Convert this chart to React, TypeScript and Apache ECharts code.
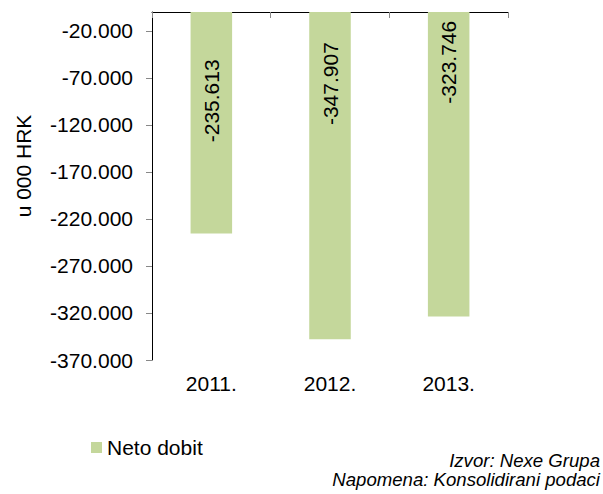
import React, { useEffect, useRef } from "react";
import * as echarts from "echarts";

const categories = ["2011.", "2012.", "2013."];
const netoDobit = [-235613, -347907, -323746];
const yTickValues = [-370000, -320000, -270000, -220000, -170000, -120000, -70000, -20000];
const labelShifts = [22, 92, 102];
const seriesName = "Neto dobit";
const yAxisTitle = "u 000 HRK";
const sourceLines = ["Izvor: Nexe Grupa", "Napomena: Konsolidirani podaci"];

const FONT = "'Liberation Sans', Arial, sans-serif";

function fmt(v: number): string {
  const s = Math.abs(Math.round(v)).toString().replace(/\B(?=(\d{3})+(?!\d))/g, ".");
  return (v < 0 ? "-" : "") + s;
}

export default function App() {
  const ref = useRef<HTMLDivElement>(null);
  useEffect(() => {
    if (!ref.current) return;
    const chart = echarts.init(ref.current, null, { renderer: "svg" });
    chart.setOption({
      animation: false,
      backgroundColor: "#ffffff",
      textStyle: { fontFamily: FONT },
      grid: { left: 152, top: 12, width: 356, height: 348, containLabel: false },
      legend: {
        data: [seriesName],
        left: 91,
        top: 437,
        padding: 0,
        icon: "rect",
        itemWidth: 11,
        itemHeight: 11,
        itemGap: 10,
        textStyle: { fontFamily: FONT, fontSize: 21, color: "#000000" },
      },
      xAxis: [
        {
          type: "category",
          data: categories,
          position: "top",
          axisLine: { show: true, onZero: false, lineStyle: { color: "#000000", width: 1 } },
          axisTick: { show: true, inside: true, length: 6, lineStyle: { color: "#888888" } },
          axisLabel: { show: false },
          splitLine: { show: false },
        },
        {
          type: "category",
          data: categories,
          position: "bottom",
          axisLine: { show: false, onZero: false },
          axisTick: { show: false },
          axisLabel: { show: true, margin: 13, fontFamily: FONT, fontSize: 21, color: "#000000" },
          splitLine: { show: false },
        },
      ],
      yAxis: {
        type: "value",
        min: -370000,
        max: 0,
        axisLine: { show: true, onZero: false, lineStyle: { color: "#000000", width: 1 } },
        axisTick: {
          show: true,
          length: 6,
          customValues: yTickValues,
          lineStyle: { color: "#888888" },
        },
        axisLabel: {
          show: true,
          customValues: yTickValues,
          margin: 19,
          fontFamily: FONT,
          fontSize: 21,
          color: "#000000",
          formatter: (v: number) => fmt(v),
        },
        splitLine: { show: false },
      },
      series: [
        {
          name: seriesName,
          type: "bar",
          xAxisIndex: 0,
          barWidth: "35%",
          itemStyle: { color: "#c4d79b" },
          data: netoDobit.map((v, i) => ({
            value: v,
            label: { offset: [labelShifts[i], 0] },
          })),
          label: {
            show: true,
            position: "inside",
            rotate: 90,
            align: "center",
            verticalAlign: "middle",
            fontFamily: FONT,
            fontSize: 21,
            color: "#000000",
            formatter: (p: any) => fmt(p.value),
          },
        },
      ],
      graphic: [
        {
          type: "text",
          x: 23,
          y: 166,
          rotation: Math.PI / 2,
          style: {
            text: yAxisTitle,
            font: `21px ${FONT}`,
            fill: "#000000",
            align: "center",
            verticalAlign: "middle",
          },
        },
        {
          type: "text",
          x: 600,
          y: 460,
          style: {
            text: sourceLines[0],
            font: `italic 18.6px ${FONT}`,
            fill: "#000000",
            align: "right",
            verticalAlign: "middle",
          },
        },
        {
          type: "text",
          x: 600,
          y: 479,
          style: {
            text: sourceLines[1],
            font: `italic 18.6px ${FONT}`,
            fill: "#000000",
            align: "right",
            verticalAlign: "middle",
          },
        },
      ],
    });
    return () => chart.dispose();
  }, []);
  return <div ref={ref} style={{ width: 603, height: 494, position: "absolute", left: 0, top: 0 }} />;
}
